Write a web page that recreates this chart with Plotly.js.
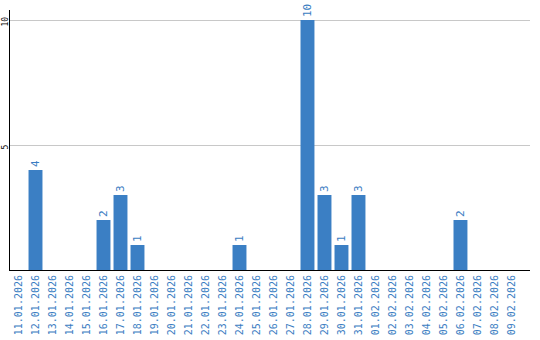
<!DOCTYPE html>
<html>
<head>
<meta charset="utf-8">
<script src="https://cdn.plot.ly/plotly-3.0.1.min.js"></script>
<style>html,body{margin:0;padding:0;background:#fff;}#chart{width:540px;height:340px;}</style>
</head>
<body>
<div id="chart"></div>
<script>
const dates = ["11.01.2026","12.01.2026","13.01.2026","14.01.2026","15.01.2026","16.01.2026","17.01.2026","18.01.2026","19.01.2026","20.01.2026","21.01.2026","22.01.2026","23.01.2026","24.01.2026","25.01.2026","26.01.2026","27.01.2026","28.01.2026","29.01.2026","30.01.2026","31.01.2026","01.02.2026","02.02.2026","03.02.2026","04.02.2026","05.02.2026","06.02.2026","07.02.2026","08.02.2026","09.02.2026"];
const counts = [0,4,0,0,0,2,3,1,0,0,0,0,0,1,0,0,0,10,3,1,3,0,0,0,0,0,2,0,0,0];
const yTicks = [5,10];

const labels = counts.map(v => v > 0 ? String(v) : "");

Plotly.newPlot("chart", [{
  type: "bar",
  x: dates,
  y: counts,
  text: labels,
  textposition: "outside",
  textangle: -90,
  constraintext: "none",
  cliponaxis: false,
  textfont: {family: "DejaVu Sans Mono", size: 11, color: "#3a7dc2"},
  marker: {color: "#3b7fc4"},
  hoverinfo: "x+y"
}], {
  width: 540, height: 340,
  margin: {l: 10, r: 10, t: 10, b: 70, pad: 0},
  paper_bgcolor: "#fff", plot_bgcolor: "#fff",
  bargap: 0.18,
  showlegend: false,
  xaxis: {
    type: "category",
    range: [-0.5, 30.09],
    tickangle: -90,
    tickfont: {family: "DejaVu Sans Mono", size: 10, color: "#3a7dc2"},
    showline: true, linecolor: "#000", linewidth: 1,
    showgrid: false, ticks: "", ticklen: 0,
    zeroline: false
  },
  yaxis: {
    range: [0, 10.4],
    tickvals: yTicks,
    showticklabels: false,
    showline: true, linecolor: "#000", linewidth: 1,
    showgrid: true, gridcolor: "#c8c8c8", gridwidth: 1,
    zeroline: false, ticks: "", ticklen: 0
  },
  annotations: yTicks.map(v => ({
    xref: "paper", yref: "y", x: 0, y: v,
    text: String(v), showarrow: false,
    textangle: -90, xanchor: "right", yanchor: "middle",
    xshift: 1, yshift: -2,
    font: {family: "DejaVu Sans Mono", size: 8, color: "#000"}
  }))
}, {displayModeBar: false, staticPlot: true});
</script>
</body>
</html>
